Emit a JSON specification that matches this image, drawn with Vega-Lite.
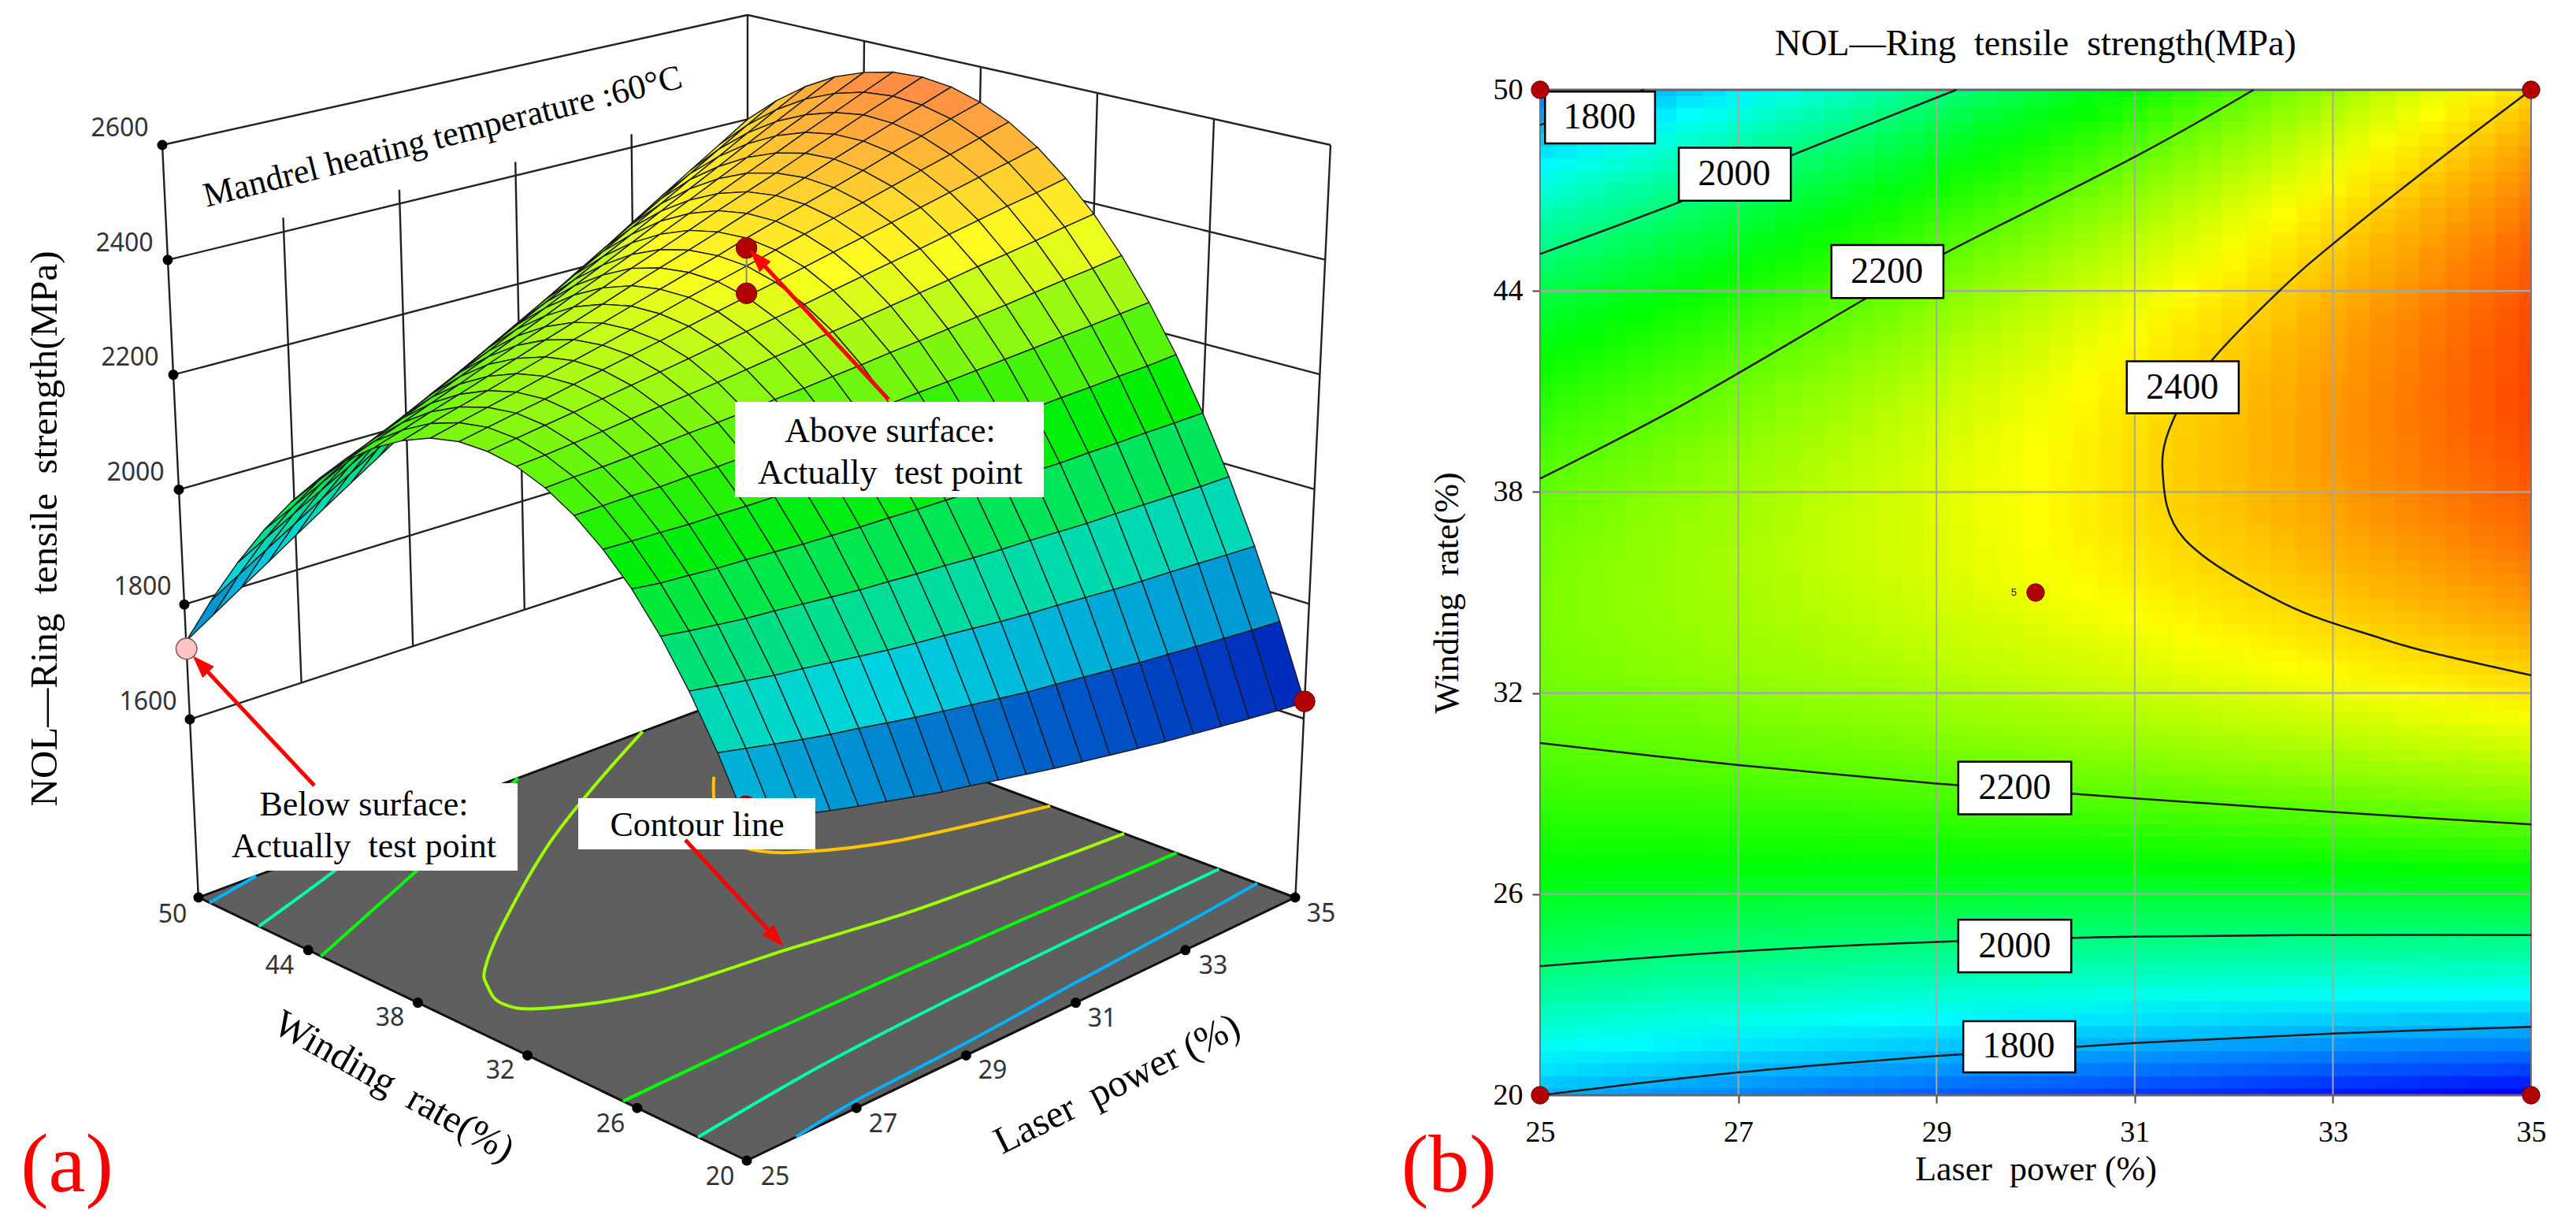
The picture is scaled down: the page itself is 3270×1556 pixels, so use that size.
{"$schema":"https://vega.github.io/schema/vega-lite/v6.json","background":"white","padding":{"left":0,"top":14,"right":0,"bottom":0},"autosize":{"type":"pad"},"bounds":"flush","spacing":0,"config":{"view":{"stroke":null}},"resolve":{"scale":{"fill":"independent"}},
"datasets":{"grid":[
{"l":35,"w":50,"z":2400},{"l":35,"w":49.25,"z":2425},{"l":35,"w":48.5,"z":2449},{"l":35,"w":47.75,"z":2470},{"l":35,"w":47,"z":2489},{"l":35,"w":46.25,"z":2506},{"l":35,"w":45.5,"z":2520},{"l":35,"w":44.75,"z":2532},{"l":35,"w":44,"z":2541},{"l":35,"w":43.25,"z":2549},{"l":35,"w":42.5,"z":2554},{"l":35,"w":41.75,"z":2556},{"l":35,"w":41,"z":2557},{"l":35,"w":40.25,"z":2555},{"l":35,"w":39.5,"z":2551},{"l":35,"w":38.75,"z":2544},{"l":35,"w":38,"z":2535},{"l":35,"w":37.25,"z":2524},{"l":35,"w":36.5,"z":2511},{"l":35,"w":35.75,"z":2495},{"l":35,"w":35,"z":2477},{"l":35,"w":34.25,"z":2456},{"l":35,"w":33.5,"z":2433},{"l":35,"w":32.75,"z":2408},{"l":35,"w":32,"z":2381},{"l":35,"w":31.25,"z":2351},{"l":35,"w":30.5,"z":2319},{"l":35,"w":29.75,"z":2285},{"l":35,"w":29,"z":2248},{"l":35,"w":28.25,"z":2209},{"l":35,"w":27.5,"z":2168},{"l":35,"w":26.75,"z":2124},{"l":35,"w":26,"z":2078},{"l":35,"w":25.25,"z":2030},{"l":35,"w":24.5,"z":1979},{"l":35,"w":23.75,"z":1927},{"l":35,"w":23,"z":1871},{"l":35,"w":22.25,"z":1814},{"l":35,"w":21.5,"z":1754},{"l":35,"w":20.75,"z":1692},{"l":35,"w":20,"z":1628},
{"l":34.5,"w":50,"z":2364},{"l":34.5,"w":49.25,"z":2391},{"l":34.5,"w":48.5,"z":2416},{"l":34.5,"w":47.75,"z":2438},{"l":34.5,"w":47,"z":2458},{"l":34.5,"w":46.25,"z":2476},{"l":34.5,"w":45.5,"z":2491},{"l":34.5,"w":44.75,"z":2503},{"l":34.5,"w":44,"z":2514},{"l":34.5,"w":43.25,"z":2523},{"l":34.5,"w":42.5,"z":2529},{"l":34.5,"w":41.75,"z":2532},{"l":34.5,"w":41,"z":2534},{"l":34.5,"w":40.25,"z":2533},{"l":34.5,"w":39.5,"z":2530},{"l":34.5,"w":38.75,"z":2524},{"l":34.5,"w":38,"z":2517},{"l":34.5,"w":37.25,"z":2507},{"l":34.5,"w":36.5,"z":2494},{"l":34.5,"w":35.75,"z":2479},{"l":34.5,"w":35,"z":2462},{"l":34.5,"w":34.25,"z":2443},{"l":34.5,"w":33.5,"z":2420},{"l":34.5,"w":32.75,"z":2397},{"l":34.5,"w":32,"z":2371},{"l":34.5,"w":31.25,"z":2342},{"l":34.5,"w":30.5,"z":2310},{"l":34.5,"w":29.75,"z":2277},{"l":34.5,"w":29,"z":2242},{"l":34.5,"w":28.25,"z":2204},{"l":34.5,"w":27.5,"z":2163},{"l":34.5,"w":26.75,"z":2121},{"l":34.5,"w":26,"z":2076},{"l":34.5,"w":25.25,"z":2029},{"l":34.5,"w":24.5,"z":1979},{"l":34.5,"w":23.75,"z":1928},{"l":34.5,"w":23,"z":1874},{"l":34.5,"w":22.25,"z":1818},{"l":34.5,"w":21.5,"z":1758},{"l":34.5,"w":20.75,"z":1697},{"l":34.5,"w":20,"z":1634},
{"l":34,"w":50,"z":2329},{"l":34,"w":49.25,"z":2357},{"l":34,"w":48.5,"z":2383},{"l":34,"w":47.75,"z":2405},{"l":34,"w":47,"z":2427},{"l":34,"w":46.25,"z":2446},{"l":34,"w":45.5,"z":2462},{"l":34,"w":44.75,"z":2476},{"l":34,"w":44,"z":2487},{"l":34,"w":43.25,"z":2497},{"l":34,"w":42.5,"z":2504},{"l":34,"w":41.75,"z":2509},{"l":34,"w":41,"z":2512},{"l":34,"w":40.25,"z":2511},{"l":34,"w":39.5,"z":2509},{"l":34,"w":38.75,"z":2505},{"l":34,"w":38,"z":2498},{"l":34,"w":37.25,"z":2490},{"l":34,"w":36.5,"z":2477},{"l":34,"w":35.75,"z":2464},{"l":34,"w":35,"z":2448},{"l":34,"w":34.25,"z":2430},{"l":34,"w":33.5,"z":2409},{"l":34,"w":32.75,"z":2386},{"l":34,"w":32,"z":2360},{"l":34,"w":31.25,"z":2333},{"l":34,"w":30.5,"z":2303},{"l":34,"w":29.75,"z":2271},{"l":34,"w":29,"z":2236},{"l":34,"w":28.25,"z":2199},{"l":34,"w":27.5,"z":2160},{"l":34,"w":26.75,"z":2119},{"l":34,"w":26,"z":2075},{"l":34,"w":25.25,"z":2028},{"l":34,"w":24.5,"z":1980},{"l":34,"w":23.75,"z":1930},{"l":34,"w":23,"z":1877},{"l":34,"w":22.25,"z":1821},{"l":34,"w":21.5,"z":1763},{"l":34,"w":20.75,"z":1703},{"l":34,"w":20,"z":1641},
{"l":33.5,"w":50,"z":2294},{"l":33.5,"w":49.25,"z":2323},{"l":33.5,"w":48.5,"z":2350},{"l":33.5,"w":47.75,"z":2374},{"l":33.5,"w":47,"z":2396},{"l":33.5,"w":46.25,"z":2416},{"l":33.5,"w":45.5,"z":2433},{"l":33.5,"w":44.75,"z":2448},{"l":33.5,"w":44,"z":2461},{"l":33.5,"w":43.25,"z":2472},{"l":33.5,"w":42.5,"z":2480},{"l":33.5,"w":41.75,"z":2485},{"l":33.5,"w":41,"z":2489},{"l":33.5,"w":40.25,"z":2490},{"l":33.5,"w":39.5,"z":2489},{"l":33.5,"w":38.75,"z":2486},{"l":33.5,"w":38,"z":2480},{"l":33.5,"w":37.25,"z":2472},{"l":33.5,"w":36.5,"z":2461},{"l":33.5,"w":35.75,"z":2449},{"l":33.5,"w":35,"z":2434},{"l":33.5,"w":34.25,"z":2417},{"l":33.5,"w":33.5,"z":2397},{"l":33.5,"w":32.75,"z":2376},{"l":33.5,"w":32,"z":2350},{"l":33.5,"w":31.25,"z":2324},{"l":33.5,"w":30.5,"z":2295},{"l":33.5,"w":29.75,"z":2264},{"l":33.5,"w":29,"z":2231},{"l":33.5,"w":28.25,"z":2195},{"l":33.5,"w":27.5,"z":2156},{"l":33.5,"w":26.75,"z":2116},{"l":33.5,"w":26,"z":2073},{"l":33.5,"w":25.25,"z":2028},{"l":33.5,"w":24.5,"z":1981},{"l":33.5,"w":23.75,"z":1932},{"l":33.5,"w":23,"z":1880},{"l":33.5,"w":22.25,"z":1824},{"l":33.5,"w":21.5,"z":1768},{"l":33.5,"w":20.75,"z":1709},{"l":33.5,"w":20,"z":1648},
{"l":33,"w":50,"z":2259},{"l":33,"w":49.25,"z":2289},{"l":33,"w":48.5,"z":2317},{"l":33,"w":47.75,"z":2342},{"l":33,"w":47,"z":2366},{"l":33,"w":46.25,"z":2387},{"l":33,"w":45.5,"z":2404},{"l":33,"w":44.75,"z":2420},{"l":33,"w":44,"z":2434},{"l":33,"w":43.25,"z":2446},{"l":33,"w":42.5,"z":2455},{"l":33,"w":41.75,"z":2462},{"l":33,"w":41,"z":2467},{"l":33,"w":40.25,"z":2469},{"l":33,"w":39.5,"z":2469},{"l":33,"w":38.75,"z":2467},{"l":33,"w":38,"z":2461},{"l":33,"w":37.25,"z":2455},{"l":33,"w":36.5,"z":2445},{"l":33,"w":35.75,"z":2434},{"l":33,"w":35,"z":2420},{"l":33,"w":34.25,"z":2404},{"l":33,"w":33.5,"z":2385},{"l":33,"w":32.75,"z":2365},{"l":33,"w":32,"z":2341},{"l":33,"w":31.25,"z":2315},{"l":33,"w":30.5,"z":2287},{"l":33,"w":29.75,"z":2257},{"l":33,"w":29,"z":2225},{"l":33,"w":28.25,"z":2190},{"l":33,"w":27.5,"z":2153},{"l":33,"w":26.75,"z":2114},{"l":33,"w":26,"z":2072},{"l":33,"w":25.25,"z":2028},{"l":33,"w":24.5,"z":1982},{"l":33,"w":23.75,"z":1933},{"l":33,"w":23,"z":1882},{"l":33,"w":22.25,"z":1828},{"l":33,"w":21.5,"z":1773},{"l":33,"w":20.75,"z":1715},{"l":33,"w":20,"z":1655},
{"l":32.5,"w":50,"z":2224},{"l":32.5,"w":49.25,"z":2255},{"l":32.5,"w":48.5,"z":2284},{"l":32.5,"w":47.75,"z":2310},{"l":32.5,"w":47,"z":2335},{"l":32.5,"w":46.25,"z":2357},{"l":32.5,"w":45.5,"z":2376},{"l":32.5,"w":44.75,"z":2393},{"l":32.5,"w":44,"z":2408},{"l":32.5,"w":43.25,"z":2421},{"l":32.5,"w":42.5,"z":2431},{"l":32.5,"w":41.75,"z":2439},{"l":32.5,"w":41,"z":2444},{"l":32.5,"w":40.25,"z":2447},{"l":32.5,"w":39.5,"z":2448},{"l":32.5,"w":38.75,"z":2447},{"l":32.5,"w":38,"z":2443},{"l":32.5,"w":37.25,"z":2438},{"l":32.5,"w":36.5,"z":2429},{"l":32.5,"w":35.75,"z":2419},{"l":32.5,"w":35,"z":2406},{"l":32.5,"w":34.25,"z":2391},{"l":32.5,"w":33.5,"z":2373},{"l":32.5,"w":32.75,"z":2354},{"l":32.5,"w":32,"z":2331},{"l":32.5,"w":31.25,"z":2307},{"l":32.5,"w":30.5,"z":2280},{"l":32.5,"w":29.75,"z":2251},{"l":32.5,"w":29,"z":2220},{"l":32.5,"w":28.25,"z":2185},{"l":32.5,"w":27.5,"z":2149},{"l":32.5,"w":26.75,"z":2111},{"l":32.5,"w":26,"z":2070},{"l":32.5,"w":25.25,"z":2027},{"l":32.5,"w":24.5,"z":1982},{"l":32.5,"w":23.75,"z":1935},{"l":32.5,"w":23,"z":1885},{"l":32.5,"w":22.25,"z":1832},{"l":32.5,"w":21.5,"z":1778},{"l":32.5,"w":20.75,"z":1721},{"l":32.5,"w":20,"z":1662},
{"l":32,"w":50,"z":2190},{"l":32,"w":49.25,"z":2222},{"l":32,"w":48.5,"z":2252},{"l":32,"w":47.75,"z":2279},{"l":32,"w":47,"z":2305},{"l":32,"w":46.25,"z":2328},{"l":32,"w":45.5,"z":2348},{"l":32,"w":44.75,"z":2366},{"l":32,"w":44,"z":2382},{"l":32,"w":43.25,"z":2396},{"l":32,"w":42.5,"z":2407},{"l":32,"w":41.75,"z":2416},{"l":32,"w":41,"z":2423},{"l":32,"w":40.25,"z":2427},{"l":32,"w":39.5,"z":2429},{"l":32,"w":38.75,"z":2429},{"l":32,"w":38,"z":2426},{"l":32,"w":37.25,"z":2422},{"l":32,"w":36.5,"z":2414},{"l":32,"w":35.75,"z":2405},{"l":32,"w":35,"z":2393},{"l":32,"w":34.25,"z":2379},{"l":32,"w":33.5,"z":2362},{"l":32,"w":32.75,"z":2344},{"l":32,"w":32,"z":2322},{"l":32,"w":31.25,"z":2299},{"l":32,"w":30.5,"z":2273},{"l":32,"w":29.75,"z":2245},{"l":32,"w":29,"z":2215},{"l":32,"w":28.25,"z":2182},{"l":32,"w":27.5,"z":2147},{"l":32,"w":26.75,"z":2110},{"l":32,"w":26,"z":2070},{"l":32,"w":25.25,"z":2028},{"l":32,"w":24.5,"z":1984},{"l":32,"w":23.75,"z":1938},{"l":32,"w":23,"z":1889},{"l":32,"w":22.25,"z":1837},{"l":32,"w":21.5,"z":1784},{"l":32,"w":20.75,"z":1728},{"l":32,"w":20,"z":1670},
{"l":31.5,"w":50,"z":2156},{"l":31.5,"w":49.25,"z":2189},{"l":31.5,"w":48.5,"z":2220},{"l":31.5,"w":47.75,"z":2248},{"l":31.5,"w":47,"z":2275},{"l":31.5,"w":46.25,"z":2299},{"l":31.5,"w":45.5,"z":2320},{"l":31.5,"w":44.75,"z":2339},{"l":31.5,"w":44,"z":2357},{"l":31.5,"w":43.25,"z":2372},{"l":31.5,"w":42.5,"z":2384},{"l":31.5,"w":41.75,"z":2394},{"l":31.5,"w":41,"z":2402},{"l":31.5,"w":40.25,"z":2407},{"l":31.5,"w":39.5,"z":2410},{"l":31.5,"w":38.75,"z":2411},{"l":31.5,"w":38,"z":2409},{"l":31.5,"w":37.25,"z":2406},{"l":31.5,"w":36.5,"z":2399},{"l":31.5,"w":35.75,"z":2391},{"l":31.5,"w":35,"z":2380},{"l":31.5,"w":34.25,"z":2367},{"l":31.5,"w":33.5,"z":2351},{"l":31.5,"w":32.75,"z":2334},{"l":31.5,"w":32,"z":2313},{"l":31.5,"w":31.25,"z":2291},{"l":31.5,"w":30.5,"z":2266},{"l":31.5,"w":29.75,"z":2239},{"l":31.5,"w":29,"z":2210},{"l":31.5,"w":28.25,"z":2178},{"l":31.5,"w":27.5,"z":2144},{"l":31.5,"w":26.75,"z":2108},{"l":31.5,"w":26,"z":2069},{"l":31.5,"w":25.25,"z":2029},{"l":31.5,"w":24.5,"z":1986},{"l":31.5,"w":23.75,"z":1941},{"l":31.5,"w":23,"z":1893},{"l":31.5,"w":22.25,"z":1842},{"l":31.5,"w":21.5,"z":1790},{"l":31.5,"w":20.75,"z":1735},{"l":31.5,"w":20,"z":1678},
{"l":31,"w":50,"z":2122},{"l":31,"w":49.25,"z":2156},{"l":31,"w":48.5,"z":2188},{"l":31,"w":47.75,"z":2218},{"l":31,"w":47,"z":2246},{"l":31,"w":46.25,"z":2271},{"l":31,"w":45.5,"z":2293},{"l":31,"w":44.75,"z":2313},{"l":31,"w":44,"z":2331},{"l":31,"w":43.25,"z":2347},{"l":31,"w":42.5,"z":2360},{"l":31,"w":41.75,"z":2371},{"l":31,"w":41,"z":2380},{"l":31,"w":40.25,"z":2386},{"l":31,"w":39.5,"z":2390},{"l":31,"w":38.75,"z":2393},{"l":31,"w":38,"z":2392},{"l":31,"w":37.25,"z":2390},{"l":31,"w":36.5,"z":2384},{"l":31,"w":35.75,"z":2377},{"l":31,"w":35,"z":2367},{"l":31,"w":34.25,"z":2355},{"l":31,"w":33.5,"z":2340},{"l":31,"w":32.75,"z":2324},{"l":31,"w":32,"z":2304},{"l":31,"w":31.25,"z":2283},{"l":31,"w":30.5,"z":2260},{"l":31,"w":29.75,"z":2234},{"l":31,"w":29,"z":2206},{"l":31,"w":28.25,"z":2175},{"l":31,"w":27.5,"z":2142},{"l":31,"w":26.75,"z":2107},{"l":31,"w":26,"z":2069},{"l":31,"w":25.25,"z":2029},{"l":31,"w":24.5,"z":1987},{"l":31,"w":23.75,"z":1943},{"l":31,"w":23,"z":1896},{"l":31,"w":22.25,"z":1846},{"l":31,"w":21.5,"z":1796},{"l":31,"w":20.75,"z":1742},{"l":31,"w":20,"z":1686},
{"l":30.5,"w":50,"z":2088},{"l":30.5,"w":49.25,"z":2123},{"l":30.5,"w":48.5,"z":2157},{"l":30.5,"w":47.75,"z":2187},{"l":30.5,"w":47,"z":2216},{"l":30.5,"w":46.25,"z":2242},{"l":30.5,"w":45.5,"z":2265},{"l":30.5,"w":44.75,"z":2286},{"l":30.5,"w":44,"z":2305},{"l":30.5,"w":43.25,"z":2323},{"l":30.5,"w":42.5,"z":2337},{"l":30.5,"w":41.75,"z":2349},{"l":30.5,"w":41,"z":2359},{"l":30.5,"w":40.25,"z":2366},{"l":30.5,"w":39.5,"z":2371},{"l":30.5,"w":38.75,"z":2374},{"l":30.5,"w":38,"z":2374},{"l":30.5,"w":37.25,"z":2374},{"l":30.5,"w":36.5,"z":2369},{"l":30.5,"w":35.75,"z":2363},{"l":30.5,"w":35,"z":2354},{"l":30.5,"w":34.25,"z":2343},{"l":30.5,"w":33.5,"z":2329},{"l":30.5,"w":32.75,"z":2314},{"l":30.5,"w":32,"z":2296},{"l":30.5,"w":31.25,"z":2276},{"l":30.5,"w":30.5,"z":2253},{"l":30.5,"w":29.75,"z":2228},{"l":30.5,"w":29,"z":2201},{"l":30.5,"w":28.25,"z":2171},{"l":30.5,"w":27.5,"z":2139},{"l":30.5,"w":26.75,"z":2105},{"l":30.5,"w":26,"z":2069},{"l":30.5,"w":25.25,"z":2030},{"l":30.5,"w":24.5,"z":1989},{"l":30.5,"w":23.75,"z":1946},{"l":30.5,"w":23,"z":1900},{"l":30.5,"w":22.25,"z":1851},{"l":30.5,"w":21.5,"z":1801},{"l":30.5,"w":20.75,"z":1749},{"l":30.5,"w":20,"z":1694},
{"l":30,"w":50,"z":2055},{"l":30,"w":49.25,"z":2092},{"l":30,"w":48.5,"z":2126},{"l":30,"w":47.75,"z":2157},{"l":30,"w":47,"z":2187},{"l":30,"w":46.25,"z":2214},{"l":30,"w":45.5,"z":2238},{"l":30,"w":44.75,"z":2261},{"l":30,"w":44,"z":2281},{"l":30,"w":43.25,"z":2299},{"l":30,"w":42.5,"z":2314},{"l":30,"w":41.75,"z":2327},{"l":30,"w":41,"z":2339},{"l":30,"w":40.25,"z":2347},{"l":30,"w":39.5,"z":2353},{"l":30,"w":38.75,"z":2357},{"l":30,"w":38,"z":2358},{"l":30,"w":37.25,"z":2358},{"l":30,"w":36.5,"z":2355},{"l":30,"w":35.75,"z":2350},{"l":30,"w":35,"z":2342},{"l":30,"w":34.25,"z":2332},{"l":30,"w":33.5,"z":2319},{"l":30,"w":32.75,"z":2306},{"l":30,"w":32,"z":2288},{"l":30,"w":31.25,"z":2269},{"l":30,"w":30.5,"z":2247},{"l":30,"w":29.75,"z":2223},{"l":30,"w":29,"z":2197},{"l":30,"w":28.25,"z":2169},{"l":30,"w":27.5,"z":2138},{"l":30,"w":26.75,"z":2105},{"l":30,"w":26,"z":2069},{"l":30,"w":25.25,"z":2031},{"l":30,"w":24.5,"z":1992},{"l":30,"w":23.75,"z":1950},{"l":30,"w":23,"z":1905},{"l":30,"w":22.25,"z":1857},{"l":30,"w":21.5,"z":1808},{"l":30,"w":20.75,"z":1756},{"l":30,"w":20,"z":1703},
{"l":29.5,"w":50,"z":2022},{"l":29.5,"w":49.25,"z":2060},{"l":29.5,"w":48.5,"z":2095},{"l":29.5,"w":47.75,"z":2127},{"l":29.5,"w":47,"z":2158},{"l":29.5,"w":46.25,"z":2187},{"l":29.5,"w":45.5,"z":2212},{"l":29.5,"w":44.75,"z":2235},{"l":29.5,"w":44,"z":2256},{"l":29.5,"w":43.25,"z":2275},{"l":29.5,"w":42.5,"z":2292},{"l":29.5,"w":41.75,"z":2306},{"l":29.5,"w":41,"z":2318},{"l":29.5,"w":40.25,"z":2327},{"l":29.5,"w":39.5,"z":2335},{"l":29.5,"w":38.75,"z":2340},{"l":29.5,"w":38,"z":2342},{"l":29.5,"w":37.25,"z":2343},{"l":29.5,"w":36.5,"z":2341},{"l":29.5,"w":35.75,"z":2337},{"l":29.5,"w":35,"z":2330},{"l":29.5,"w":34.25,"z":2321},{"l":29.5,"w":33.5,"z":2309},{"l":29.5,"w":32.75,"z":2297},{"l":29.5,"w":32,"z":2280},{"l":29.5,"w":31.25,"z":2262},{"l":29.5,"w":30.5,"z":2241},{"l":29.5,"w":29.75,"z":2219},{"l":29.5,"w":29,"z":2194},{"l":29.5,"w":28.25,"z":2166},{"l":29.5,"w":27.5,"z":2136},{"l":29.5,"w":26.75,"z":2105},{"l":29.5,"w":26,"z":2070},{"l":29.5,"w":25.25,"z":2033},{"l":29.5,"w":24.5,"z":1994},{"l":29.5,"w":23.75,"z":1953},{"l":29.5,"w":23,"z":1910},{"l":29.5,"w":22.25,"z":1863},{"l":29.5,"w":21.5,"z":1815},{"l":29.5,"w":20.75,"z":1764},{"l":29.5,"w":20,"z":1712},
{"l":29,"w":50,"z":1989},{"l":29,"w":49.25,"z":2028},{"l":29,"w":48.5,"z":2064},{"l":29,"w":47.75,"z":2097},{"l":29,"w":47,"z":2130},{"l":29,"w":46.25,"z":2159},{"l":29,"w":45.5,"z":2185},{"l":29,"w":44.75,"z":2209},{"l":29,"w":44,"z":2232},{"l":29,"w":43.25,"z":2252},{"l":29,"w":42.5,"z":2269},{"l":29,"w":41.75,"z":2284},{"l":29,"w":41,"z":2298},{"l":29,"w":40.25,"z":2308},{"l":29,"w":39.5,"z":2316},{"l":29,"w":38.75,"z":2323},{"l":29,"w":38,"z":2326},{"l":29,"w":37.25,"z":2328},{"l":29,"w":36.5,"z":2326},{"l":29,"w":35.75,"z":2324},{"l":29,"w":35,"z":2318},{"l":29,"w":34.25,"z":2310},{"l":29,"w":33.5,"z":2300},{"l":29,"w":32.75,"z":2288},{"l":29,"w":32,"z":2272},{"l":29,"w":31.25,"z":2255},{"l":29,"w":30.5,"z":2236},{"l":29,"w":29.75,"z":2214},{"l":29,"w":29,"z":2190},{"l":29,"w":28.25,"z":2164},{"l":29,"w":27.5,"z":2135},{"l":29,"w":26.75,"z":2104},{"l":29,"w":26,"z":2070},{"l":29,"w":25.25,"z":2035},{"l":29,"w":24.5,"z":1997},{"l":29,"w":23.75,"z":1957},{"l":29,"w":23,"z":1914},{"l":29,"w":22.25,"z":1869},{"l":29,"w":21.5,"z":1822},{"l":29,"w":20.75,"z":1772},{"l":29,"w":20,"z":1721},
{"l":28.5,"w":50,"z":1957},{"l":28.5,"w":49.25,"z":1996},{"l":28.5,"w":48.5,"z":2033},{"l":28.5,"w":47.75,"z":2067},{"l":28.5,"w":47,"z":2101},{"l":28.5,"w":46.25,"z":2131},{"l":28.5,"w":45.5,"z":2158},{"l":28.5,"w":44.75,"z":2184},{"l":28.5,"w":44,"z":2207},{"l":28.5,"w":43.25,"z":2228},{"l":28.5,"w":42.5,"z":2247},{"l":28.5,"w":41.75,"z":2263},{"l":28.5,"w":41,"z":2277},{"l":28.5,"w":40.25,"z":2289},{"l":28.5,"w":39.5,"z":2298},{"l":28.5,"w":38.75,"z":2305},{"l":28.5,"w":38,"z":2310},{"l":28.5,"w":37.25,"z":2313},{"l":28.5,"w":36.5,"z":2312},{"l":28.5,"w":35.75,"z":2311},{"l":28.5,"w":35,"z":2306},{"l":28.5,"w":34.25,"z":2299},{"l":28.5,"w":33.5,"z":2290},{"l":28.5,"w":32.75,"z":2279},{"l":28.5,"w":32,"z":2264},{"l":28.5,"w":31.25,"z":2249},{"l":28.5,"w":30.5,"z":2230},{"l":28.5,"w":29.75,"z":2209},{"l":28.5,"w":29,"z":2187},{"l":28.5,"w":28.25,"z":2161},{"l":28.5,"w":27.5,"z":2133},{"l":28.5,"w":26.75,"z":2104},{"l":28.5,"w":26,"z":2071},{"l":28.5,"w":25.25,"z":2036},{"l":28.5,"w":24.5,"z":1999},{"l":28.5,"w":23.75,"z":1961},{"l":28.5,"w":23,"z":1919},{"l":28.5,"w":22.25,"z":1875},{"l":28.5,"w":21.5,"z":1829},{"l":28.5,"w":20.75,"z":1780},{"l":28.5,"w":20,"z":1729},
{"l":28,"w":50,"z":1925},{"l":28,"w":49.25,"z":1965},{"l":28,"w":48.5,"z":2003},{"l":28,"w":47.75,"z":2039},{"l":28,"w":47,"z":2073},{"l":28,"w":46.25,"z":2104},{"l":28,"w":45.5,"z":2133},{"l":28,"w":44.75,"z":2159},{"l":28,"w":44,"z":2184},{"l":28,"w":43.25,"z":2206},{"l":28,"w":42.5,"z":2225},{"l":28,"w":41.75,"z":2243},{"l":28,"w":41,"z":2258},{"l":28,"w":40.25,"z":2270},{"l":28,"w":39.5,"z":2281},{"l":28,"w":38.75,"z":2289},{"l":28,"w":38,"z":2295},{"l":28,"w":37.25,"z":2299},{"l":28,"w":36.5,"z":2299},{"l":28,"w":35.75,"z":2299},{"l":28,"w":35,"z":2295},{"l":28,"w":34.25,"z":2289},{"l":28,"w":33.5,"z":2281},{"l":28,"w":32.75,"z":2271},{"l":28,"w":32,"z":2257},{"l":28,"w":31.25,"z":2243},{"l":28,"w":30.5,"z":2225},{"l":28,"w":29.75,"z":2206},{"l":28,"w":29,"z":2184},{"l":28,"w":28.25,"z":2159},{"l":28,"w":27.5,"z":2133},{"l":28,"w":26.75,"z":2104},{"l":28,"w":26,"z":2072},{"l":28,"w":25.25,"z":2039},{"l":28,"w":24.5,"z":2003},{"l":28,"w":23.75,"z":1966},{"l":28,"w":23,"z":1925},{"l":28,"w":22.25,"z":1881},{"l":28,"w":21.5,"z":1837},{"l":28,"w":20.75,"z":1789},{"l":28,"w":20,"z":1739},
{"l":27.5,"w":50,"z":1893},{"l":27.5,"w":49.25,"z":1934},{"l":27.5,"w":48.5,"z":1973},{"l":27.5,"w":47.75,"z":2010},{"l":27.5,"w":47,"z":2045},{"l":27.5,"w":46.25,"z":2078},{"l":27.5,"w":45.5,"z":2107},{"l":27.5,"w":44.75,"z":2134},{"l":27.5,"w":44,"z":2160},{"l":27.5,"w":43.25,"z":2183},{"l":27.5,"w":42.5,"z":2204},{"l":27.5,"w":41.75,"z":2222},{"l":27.5,"w":41,"z":2239},{"l":27.5,"w":40.25,"z":2252},{"l":27.5,"w":39.5,"z":2263},{"l":27.5,"w":38.75,"z":2273},{"l":27.5,"w":38,"z":2279},{"l":27.5,"w":37.25,"z":2285},{"l":27.5,"w":36.5,"z":2286},{"l":27.5,"w":35.75,"z":2287},{"l":27.5,"w":35,"z":2284},{"l":27.5,"w":34.25,"z":2279},{"l":27.5,"w":33.5,"z":2272},{"l":27.5,"w":32.75,"z":2263},{"l":27.5,"w":32,"z":2251},{"l":27.5,"w":31.25,"z":2237},{"l":27.5,"w":30.5,"z":2221},{"l":27.5,"w":29.75,"z":2202},{"l":27.5,"w":29,"z":2181},{"l":27.5,"w":28.25,"z":2158},{"l":27.5,"w":27.5,"z":2132},{"l":27.5,"w":26.75,"z":2105},{"l":27.5,"w":26,"z":2074},{"l":27.5,"w":25.25,"z":2042},{"l":27.5,"w":24.5,"z":2007},{"l":27.5,"w":23.75,"z":1970},{"l":27.5,"w":23,"z":1931},{"l":27.5,"w":22.25,"z":1888},{"l":27.5,"w":21.5,"z":1845},{"l":27.5,"w":20.75,"z":1798},{"l":27.5,"w":20,"z":1749},
{"l":27,"w":50,"z":1861},{"l":27,"w":49.25,"z":1903},{"l":27,"w":48.5,"z":1944},{"l":27,"w":47.75,"z":1981},{"l":27,"w":47,"z":2017},{"l":27,"w":46.25,"z":2051},{"l":27,"w":45.5,"z":2081},{"l":27,"w":44.75,"z":2110},{"l":27,"w":44,"z":2136},{"l":27,"w":43.25,"z":2161},{"l":27,"w":42.5,"z":2182},{"l":27,"w":41.75,"z":2202},{"l":27,"w":41,"z":2219},{"l":27,"w":40.25,"z":2234},{"l":27,"w":39.5,"z":2246},{"l":27,"w":38.75,"z":2257},{"l":27,"w":38,"z":2264},{"l":27,"w":37.25,"z":2271},{"l":27,"w":36.5,"z":2273},{"l":27,"w":35.75,"z":2275},{"l":27,"w":35,"z":2273},{"l":27,"w":34.25,"z":2269},{"l":27,"w":33.5,"z":2263},{"l":27,"w":32.75,"z":2255},{"l":27,"w":32,"z":2244},{"l":27,"w":31.25,"z":2231},{"l":27,"w":30.5,"z":2216},{"l":27,"w":29.75,"z":2198},{"l":27,"w":29,"z":2179},{"l":27,"w":28.25,"z":2156},{"l":27,"w":27.5,"z":2132},{"l":27,"w":26.75,"z":2105},{"l":27,"w":26,"z":2076},{"l":27,"w":25.25,"z":2044},{"l":27,"w":24.5,"z":2011},{"l":27,"w":23.75,"z":1975},{"l":27,"w":23,"z":1937},{"l":27,"w":22.25,"z":1895},{"l":27,"w":21.5,"z":1852},{"l":27,"w":20.75,"z":1807},{"l":27,"w":20,"z":1759},
{"l":26.5,"w":50,"z":1829},{"l":26.5,"w":49.25,"z":1872},{"l":26.5,"w":48.5,"z":1914},{"l":26.5,"w":47.75,"z":1952},{"l":26.5,"w":47,"z":1990},{"l":26.5,"w":46.25,"z":2024},{"l":26.5,"w":45.5,"z":2056},{"l":26.5,"w":44.75,"z":2085},{"l":26.5,"w":44,"z":2113},{"l":26.5,"w":43.25,"z":2138},{"l":26.5,"w":42.5,"z":2161},{"l":26.5,"w":41.75,"z":2181},{"l":26.5,"w":41,"z":2200},{"l":26.5,"w":40.25,"z":2215},{"l":26.5,"w":39.5,"z":2229},{"l":26.5,"w":38.75,"z":2240},{"l":26.5,"w":38,"z":2249},{"l":26.5,"w":37.25,"z":2256},{"l":26.5,"w":36.5,"z":2260},{"l":26.5,"w":35.75,"z":2262},{"l":26.5,"w":35,"z":2262},{"l":26.5,"w":34.25,"z":2260},{"l":26.5,"w":33.5,"z":2254},{"l":26.5,"w":32.75,"z":2248},{"l":26.5,"w":32,"z":2237},{"l":26.5,"w":31.25,"z":2226},{"l":26.5,"w":30.5,"z":2211},{"l":26.5,"w":29.75,"z":2195},{"l":26.5,"w":29,"z":2176},{"l":26.5,"w":28.25,"z":2155},{"l":26.5,"w":27.5,"z":2131},{"l":26.5,"w":26.75,"z":2106},{"l":26.5,"w":26,"z":2077},{"l":26.5,"w":25.25,"z":2047},{"l":26.5,"w":24.5,"z":2014},{"l":26.5,"w":23.75,"z":1978},{"l":26.5,"w":23,"z":1942},{"l":26.5,"w":22.25,"z":1902},{"l":26.5,"w":21.5,"z":1860},{"l":26.5,"w":20.75,"z":1816},{"l":26.5,"w":20,"z":1769},
{"l":26,"w":50,"z":1798},{"l":26,"w":49.25,"z":1842},{"l":26,"w":48.5,"z":1885},{"l":26,"w":47.75,"z":1924},{"l":26,"w":47,"z":1963},{"l":26,"w":46.25,"z":1998},{"l":26,"w":45.5,"z":2031},{"l":26,"w":44.75,"z":2062},{"l":26,"w":44,"z":2090},{"l":26,"w":43.25,"z":2117},{"l":26,"w":42.5,"z":2140},{"l":26,"w":41.75,"z":2162},{"l":26,"w":41,"z":2181},{"l":26,"w":40.25,"z":2198},{"l":26,"w":39.5,"z":2213},{"l":26,"w":38.75,"z":2225},{"l":26,"w":38,"z":2235},{"l":26,"w":37.25,"z":2243},{"l":26,"w":36.5,"z":2248},{"l":26,"w":35.75,"z":2251},{"l":26,"w":35,"z":2252},{"l":26,"w":34.25,"z":2251},{"l":26,"w":33.5,"z":2246},{"l":26,"w":32.75,"z":2241},{"l":26,"w":32,"z":2231},{"l":26,"w":31.25,"z":2221},{"l":26,"w":30.5,"z":2207},{"l":26,"w":29.75,"z":2192},{"l":26,"w":29,"z":2175},{"l":26,"w":28.25,"z":2154},{"l":26,"w":27.5,"z":2132},{"l":26,"w":26.75,"z":2107},{"l":26,"w":26,"z":2080},{"l":26,"w":25.25,"z":2050},{"l":26,"w":24.5,"z":2019},{"l":26,"w":23.75,"z":1985},{"l":26,"w":23,"z":1949},{"l":26,"w":22.25,"z":1910},{"l":26,"w":21.5,"z":1869},{"l":26,"w":20.75,"z":1826},{"l":26,"w":20,"z":1780},
{"l":25.5,"w":50,"z":1767},{"l":25.5,"w":49.25,"z":1812},{"l":25.5,"w":48.5,"z":1856},{"l":25.5,"w":47.75,"z":1897},{"l":25.5,"w":47,"z":1936},{"l":25.5,"w":46.25,"z":1973},{"l":25.5,"w":45.5,"z":2006},{"l":25.5,"w":44.75,"z":2038},{"l":25.5,"w":44,"z":2068},{"l":25.5,"w":43.25,"z":2095},{"l":25.5,"w":42.5,"z":2120},{"l":25.5,"w":41.75,"z":2142},{"l":25.5,"w":41,"z":2163},{"l":25.5,"w":40.25,"z":2181},{"l":25.5,"w":39.5,"z":2196},{"l":25.5,"w":38.75,"z":2210},{"l":25.5,"w":38,"z":2221},{"l":25.5,"w":37.25,"z":2230},{"l":25.5,"w":36.5,"z":2236},{"l":25.5,"w":35.75,"z":2240},{"l":25.5,"w":35,"z":2242},{"l":25.5,"w":34.25,"z":2242},{"l":25.5,"w":33.5,"z":2238},{"l":25.5,"w":32.75,"z":2234},{"l":25.5,"w":32,"z":2225},{"l":25.5,"w":31.25,"z":2216},{"l":25.5,"w":30.5,"z":2204},{"l":25.5,"w":29.75,"z":2190},{"l":25.5,"w":29,"z":2173},{"l":25.5,"w":28.25,"z":2154},{"l":25.5,"w":27.5,"z":2132},{"l":25.5,"w":26.75,"z":2109},{"l":25.5,"w":26,"z":2082},{"l":25.5,"w":25.25,"z":2054},{"l":25.5,"w":24.5,"z":2024},{"l":25.5,"w":23.75,"z":1991},{"l":25.5,"w":23,"z":1956},{"l":25.5,"w":22.25,"z":1917},{"l":25.5,"w":21.5,"z":1878},{"l":25.5,"w":20.75,"z":1836},{"l":25.5,"w":20,"z":1791},
{"l":25,"w":50,"z":1736},{"l":25,"w":49.25,"z":1782},{"l":25,"w":48.5,"z":1827},{"l":25,"w":47.75,"z":1869},{"l":25,"w":47,"z":1909},{"l":25,"w":46.25,"z":1947},{"l":25,"w":45.5,"z":1982},{"l":25,"w":44.75,"z":2014},{"l":25,"w":44,"z":2045},{"l":25,"w":43.25,"z":2074},{"l":25,"w":42.5,"z":2099},{"l":25,"w":41.75,"z":2123},{"l":25,"w":41,"z":2145},{"l":25,"w":40.25,"z":2165},{"l":25,"w":39.5,"z":2180},{"l":25,"w":38.75,"z":2195},{"l":25,"w":38,"z":2206},{"l":25,"w":37.25,"z":2217},{"l":25,"w":36.5,"z":2224},{"l":25,"w":35.75,"z":2229},{"l":25,"w":35,"z":2232},{"l":25,"w":34.25,"z":2233},{"l":25,"w":33.5,"z":2230},{"l":25,"w":32.75,"z":2227},{"l":25,"w":32,"z":2220},{"l":25,"w":31.25,"z":2211},{"l":25,"w":30.5,"z":2200},{"l":25,"w":29.75,"z":2187},{"l":25,"w":29,"z":2171},{"l":25,"w":28.25,"z":2153},{"l":25,"w":27.5,"z":2133},{"l":25,"w":26.75,"z":2112},{"l":25,"w":26,"z":2087},{"l":25,"w":25.25,"z":2059},{"l":25,"w":24.5,"z":2030},{"l":25,"w":23.75,"z":1999},{"l":25,"w":23,"z":1963},{"l":25,"w":22.25,"z":1925},{"l":25,"w":21.5,"z":1887},{"l":25,"w":20.75,"z":1846},{"l":25,"w":20,"z":1802}
]},
"hconcat":[
{"width":1955,"height":1443,
"encoding":{"x":{"field":"px","type":"quantitative","scale":{"domain":[0,1955],"nice":false,"zero":false},"axis":null},"y":{"field":"py","type":"quantitative","scale":{"domain":[1556,113],"nice":false,"zero":false},"axis":null}},
"layer":[
{"data":{"values":[
{"id":1,"l":25,"w":50,"z":1600},{"id":1,"l":35,"w":50,"z":1600},{"id":2,"l":25,"w":50,"z":1800},{"id":2,"l":35,"w":50,"z":1800},{"id":3,"l":25,"w":50,"z":2000},{"id":3,"l":35,"w":50,"z":2000},{"id":4,"l":25,"w":50,"z":2200},{"id":4,"l":35,"w":50,"z":2200},{"id":5,"l":25,"w":50,"z":2400},{"id":5,"l":35,"w":50,"z":2400},{"id":6,"l":25,"w":50,"z":2600},{"id":6,"l":35,"w":50,"z":2600},
{"id":7,"l":35,"w":50,"z":1600},{"id":7,"l":35,"w":20,"z":1600},{"id":8,"l":35,"w":50,"z":1800},{"id":8,"l":35,"w":20,"z":1800},{"id":9,"l":35,"w":50,"z":2000},{"id":9,"l":35,"w":20,"z":2000},{"id":10,"l":35,"w":50,"z":2200},{"id":10,"l":35,"w":20,"z":2200},{"id":11,"l":35,"w":50,"z":2400},{"id":11,"l":35,"w":20,"z":2400},{"id":12,"l":35,"w":50,"z":2600},{"id":12,"l":35,"w":20,"z":2600},
{"id":13,"l":27,"w":50,"z":1600},{"id":13,"l":27,"w":50,"z":2425},{"id":14,"l":29,"w":50,"z":1600},{"id":14,"l":29,"w":50,"z":2425},{"id":15,"l":31,"w":50,"z":1600},{"id":15,"l":31,"w":50,"z":2425},{"id":16,"l":33,"w":50,"z":1600},{"id":16,"l":33,"w":50,"z":2425},
{"id":17,"l":35,"w":44,"z":1600},{"id":17,"l":35,"w":44,"z":2600},{"id":18,"l":35,"w":38,"z":1600},{"id":18,"l":35,"w":38,"z":2600},{"id":19,"l":35,"w":32,"z":1600},{"id":19,"l":35,"w":32,"z":2600},{"id":20,"l":35,"w":26,"z":1600},{"id":20,"l":35,"w":26,"z":2600},
{"id":21,"l":25,"w":50,"z":1290},{"id":21,"l":25,"w":50,"z":2600},{"id":22,"l":35,"w":20,"z":1290},{"id":22,"l":35,"w":20,"z":2600},{"id":23,"l":35,"w":50,"z":1600},{"id":23,"l":35,"w":50,"z":2600}
]},
"transform":[{"calculate":"(datum.l-25)/10","as":"u"},{"calculate":"(datum.w-20)/30","as":"v"},{"calculate":"(datum.z-1600)/1000","as":"t"},{"calculate":"947+708*datum.u-706*datum.v+datum.t*(-1+35*datum.u-34*datum.v)","as":"px"},{"calculate":"1217-306*datum.u-305*datum.v+74*datum.u*datum.v+datum.t*(-869+141*datum.u+140*datum.v-74*datum.u*datum.v)","as":"py"}],
"mark":{"type":"line","stroke":"#222222","strokeWidth":2.4},"encoding":{"detail":{"field":"id","type":"nominal"}}},
{"data":{"values":[{"k":0,"l":25,"w":20},{"k":1,"l":35,"w":20},{"k":2,"l":35,"w":50},{"k":3,"l":25,"w":50},{"k":4,"l":25,"w":20}]},
"transform":[{"calculate":"(datum.l-25)/10","as":"u"},{"calculate":"(datum.w-20)/30","as":"v"},{"calculate":"948+696*datum.u-696*datum.v","as":"px"},{"calculate":"1472-334*datum.u-334*datum.v+74*datum.u*datum.v","as":"py"}],
"mark":{"type":"line","fill":"#5f5f5f","stroke":"#111111","strokeWidth":3},"encoding":{"order":{"field":"k","type":"quantitative"}}},
{"data":{"values":[
{"id":"a","lev":1800,"k":0,"l":25.9,"w":20},{"id":"a","lev":1800,"k":1,"l":27.15,"w":20.45},{"id":"a","lev":1800,"k":2,"l":29.25,"w":20.74},{"id":"a","lev":1800,"k":3,"l":31.39,"w":21.23},{"id":"a","lev":1800,"k":4,"l":33.55,"w":21.67},{"id":"a","lev":1800,"k":5,"l":35,"w":22.07},
{"id":"b","lev":1800,"k":0,"l":25,"w":49.4},{"id":"b","lev":1800,"k":1,"l":26.05,"w":50},
{"id":"c","lev":1955,"k":0,"l":25,"w":22.67},{"id":"c","lev":1955,"k":1,"l":27.5,"w":23.47},{"id":"c","lev":1955,"k":2,"l":30,"w":23.86},{"id":"c","lev":1955,"k":3,"l":32.5,"w":24.07},{"id":"c","lev":1955,"k":4,"l":35,"w":24.16},
{"id":"d","lev":1955,"k":0,"l":25,"w":46.7},{"id":"d","lev":1955,"k":1,"l":26.94,"w":48.4},{"id":"d","lev":1955,"k":2,"l":28.5,"w":50},
{"id":"e","lev":2110,"k":0,"l":25,"w":26.77},{"id":"e","lev":2110,"k":1,"l":27.5,"w":26.9},{"id":"e","lev":2110,"k":2,"l":30,"w":26.86},{"id":"e","lev":2110,"k":3,"l":32.5,"w":26.72},{"id":"e","lev":2110,"k":4,"l":35,"w":26.51},
{"id":"f","lev":2110,"k":0,"l":25,"w":43.3},{"id":"f","lev":2110,"k":1,"l":27.8,"w":46.4},{"id":"f","lev":2110,"k":2,"l":30.83,"w":50},
{"id":"g","lev":2265,"k":0,"l":33.1,"w":50},{"id":"g","lev":2265,"k":1,"l":31.2,"w":47.2},{"id":"g","lev":2265,"k":2,"l":29.5,"w":44.5},{"id":"g","lev":2265,"k":3,"l":27.4,"w":40.6},{"id":"g","lev":2265,"k":4,"l":26.36,"w":38.4},{"id":"g","lev":2265,"k":5,"l":26.03,"w":37.3},{"id":"g","lev":2265,"k":6,"l":25.8,"w":35.8},{"id":"g","lev":2265,"k":7,"l":26.1,"w":34.4},{"id":"g","lev":2265,"k":8,"l":27.47,"w":32.5},{"id":"g","lev":2265,"k":9,"l":29.6,"w":31.5},{"id":"g","lev":2265,"k":10,"l":31.25,"w":30.56},{"id":"g","lev":2265,"k":11,"l":32.5,"w":30.1},{"id":"g","lev":2265,"k":12,"l":33.75,"w":29.7},{"id":"g","lev":2265,"k":13,"l":35,"w":29.35},
{"id":"h","lev":2420,"k":0,"l":32.7,"w":44.9},{"id":"h","lev":2420,"k":1,"l":32.2,"w":43.4},{"id":"h","lev":2420,"k":2,"l":31.5,"w":41},{"id":"h","lev":2420,"k":3,"l":31.4,"w":39},{"id":"h","lev":2420,"k":4,"l":31.8,"w":37.4},{"id":"h","lev":2420,"k":5,"l":32.96,"w":35.4},{"id":"h","lev":2420,"k":6,"l":35,"w":33.4}
]},
"transform":[{"calculate":"(datum.l-25)/10","as":"u"},{"calculate":"(datum.w-20)/30","as":"v"},{"calculate":"948+696*datum.u-696*datum.v","as":"px"},{"calculate":"1472-334*datum.u-334*datum.v+74*datum.u*datum.v","as":"py"}],
"mark":{"type":"line","strokeWidth":4,"interpolate":"cardinal"},"encoding":{"detail":{"field":"id","type":"nominal"},"order":{"field":"k","type":"quantitative"},"stroke":{"field":"lev","type":"quantitative","legend":null,"scale":{"domain":[1630,1872,2115,2357,2600],"range":["#0000ff","#00ffff","#00ff00","#ffff00","#ff2000"],"interpolate":"rgb"}}}},
{"data":{"name":"grid"},
"transform":[{"filter":"((datum.w-20)*2)%3==0"},{"calculate":"(datum.l-25)/10","as":"u"},{"calculate":"(datum.w-20)/30","as":"v"},{"calculate":"(datum.z-1600)/1000","as":"t"},{"calculate":"947+708*datum.u-706*datum.v+datum.t*(-1+35*datum.u-34*datum.v)","as":"px"},{"calculate":"1217-306*datum.u-305*datum.v+74*datum.u*datum.v+datum.t*(-869+141*datum.u+140*datum.v-74*datum.u*datum.v)","as":"py"},{"calculate":"round(datum.u*20)","as":"ci"},{"calculate":"round(datum.v*20)","as":"cj"},{"calculate":"[datum.ci*100+datum.cj,(datum.ci-1)*100+datum.cj,(datum.ci-1)*100+datum.cj-1,datum.ci*100+datum.cj-1,datum.ci*100+datum.cj]","as":"qs"},{"calculate":"[0,1,2,3,4]","as":"ks"},{"flatten":["qs","ks"]},{"filter":"datum.qs>=0&&datum.qs<2000&&datum.qs%100<20"},{"joinaggregate":[{"op":"mean","field":"z","as":"zq"}],"groupby":["qs"]}],
"mark":{"type":"line","stroke":"#1a1a1a","strokeWidth":1.4},"encoding":{"detail":{"field":"qs","type":"nominal"},"order":{"field":"ks","type":"quantitative"},"fill":{"field":"zq","type":"quantitative","legend":null,"scale":{"domain":[1630,1872,2115,2357,2600],"range":["#0000b4","#00d4e0","#00f000","#ffff20","#ff6a50"],"interpolate":"rgb"}}}},
{"data":{"values":[{"id":1,"l":30,"w":35,"z":2348},{"id":1,"l":30,"w":35,"z":2425}]},
"transform":[{"calculate":"(datum.l-25)/10","as":"u"},{"calculate":"(datum.w-20)/30","as":"v"},{"calculate":"(datum.z-1600)/1000","as":"t"},{"calculate":"947+708*datum.u-706*datum.v+datum.t*(-1+35*datum.u-34*datum.v)","as":"px"},{"calculate":"1217-306*datum.u-305*datum.v+74*datum.u*datum.v+datum.t*(-869+141*datum.u+140*datum.v-74*datum.u*datum.v)","as":"py"}],
"mark":{"type":"line","stroke":"#888888","strokeWidth":2}},
{"data":{"values":[{"l":35,"w":20,"z":1630},{"l":30,"w":35,"z":2425},{"l":30,"w":35,"z":2348},{"l":25,"w":20,"z":1824}]},
"transform":[{"calculate":"(datum.l-25)/10","as":"u"},{"calculate":"(datum.w-20)/30","as":"v"},{"calculate":"(datum.z-1600)/1000","as":"t"},{"calculate":"947+708*datum.u-706*datum.v+datum.t*(-1+35*datum.u-34*datum.v)","as":"px"},{"calculate":"1217-306*datum.u-305*datum.v+74*datum.u*datum.v+datum.t*(-869+141*datum.u+140*datum.v-74*datum.u*datum.v)","as":"py"}],
"mark":{"type":"circle","size":700,"fill":"#b00000","stroke":"#6e0000","strokeWidth":1,"opacity":1}},
{"data":{"values":[{"l":25,"w":50,"z":1723}]},
"transform":[{"calculate":"(datum.l-25)/10","as":"u"},{"calculate":"(datum.w-20)/30","as":"v"},{"calculate":"(datum.z-1600)/1000","as":"t"},{"calculate":"947+708*datum.u-706*datum.v+datum.t*(-1+35*datum.u-34*datum.v)","as":"px"},{"calculate":"1217-306*datum.u-305*datum.v+74*datum.u*datum.v+datum.t*(-869+141*datum.u+140*datum.v-74*datum.u*datum.v)","as":"py"}],
"mark":{"type":"circle","size":700,"fill":"#ffc4c4","stroke":"#8a5050","strokeWidth":1.5,"opacity":1}},
{"data":{"values":[{"l":25,"w":50,"z":1600},{"l":25,"w":50,"z":1800},{"l":25,"w":50,"z":2000},{"l":25,"w":50,"z":2200},{"l":25,"w":50,"z":2400},{"l":25,"w":50,"z":2600}]},
"transform":[{"calculate":"(datum.l-25)/10","as":"u"},{"calculate":"(datum.w-20)/30","as":"v"},{"calculate":"(datum.z-1600)/1000","as":"t"},{"calculate":"947+708*datum.u-706*datum.v+datum.t*(-1+35*datum.u-34*datum.v)","as":"px"},{"calculate":"1217-306*datum.u-305*datum.v+74*datum.u*datum.v+datum.t*(-869+141*datum.u+140*datum.v-74*datum.u*datum.v)","as":"py"}],
"mark":{"type":"circle","size":170,"fill":"#000000","opacity":1}},
{"data":{"values":[{"l":25,"w":50},{"l":25,"w":44},{"l":25,"w":38},{"l":25,"w":32},{"l":25,"w":26},{"l":25,"w":20},{"l":27,"w":20},{"l":29,"w":20},{"l":31,"w":20},{"l":33,"w":20},{"l":35,"w":20}]},
"transform":[{"calculate":"(datum.l-25)/10","as":"u"},{"calculate":"(datum.w-20)/30","as":"v"},{"calculate":"948+696*datum.u-696*datum.v","as":"px"},{"calculate":"1472-334*datum.u-334*datum.v+74*datum.u*datum.v","as":"py"}],
"mark":{"type":"circle","size":170,"fill":"#000000","opacity":1}},
{"data":{"values":[{"px":274,"px2":657,"py":993,"py2":1104},{"px":734,"px2":1035,"py":1012,"py2":1077},{"px":933,"px2":1325,"py":509,"py2":630}]},
"mark":{"type":"rect","fill":"white"},"encoding":{"x2":{"field":"px2"},"y2":{"field":"py2"}}},
{"data":{"values":[{"px":399,"py":996,"px2":264,"py2":852},{"px":1128,"py":506,"px2":971,"py2":337},{"px":870,"py":1065,"px2":975,"py2":1179}]},
"mark":{"type":"rule","stroke":"#ff0000","strokeWidth":5},"encoding":{"x2":{"field":"px2"},"y2":{"field":"py2"}}},
{"data":{"values":[{"id":1,"k":0,"px":245,"py":832},{"id":1,"k":1,"px":271,"py":845},{"id":1,"k":2,"px":257,"py":859},{"id":2,"k":0,"px":952,"py":317},{"id":2,"k":1,"px":978,"py":331},{"id":2,"k":2,"px":964,"py":344},{"id":3,"k":0,"px":994,"py":1200},{"id":3,"k":1,"px":982,"py":1173},{"id":3,"k":2,"px":968,"py":1186}]},
"mark":{"type":"line","fill":"#ff0000","stroke":"#ff0000","strokeWidth":1},"encoding":{"detail":{"field":"id","type":"nominal"},"order":{"field":"k","type":"quantitative"}}},
{"data":{"values":[{"t":"2600","px":152,"py":162},{"t":"2400","px":158,"py":308},{"t":"2200","px":165,"py":453},{"t":"2000","px":172,"py":599},{"t":"1800","px":181,"py":744},{"t":"1600","px":188,"py":890},{"t":"50","px":219,"py":1160},{"t":"44","px":355,"py":1225},{"t":"38","px":495,"py":1291},{"t":"32","px":635,"py":1358},{"t":"26","px":775,"py":1426},{"t":"20","px":914,"py":1493},{"t":"25","px":984,"py":1493},{"t":"27","px":1121,"py":1426},{"t":"29","px":1260,"py":1358},{"t":"31","px":1399,"py":1292},{"t":"33","px":1540,"py":1225},{"t":"35","px":1677,"py":1159}]},
"mark":{"type":"text","font":"Noto Sans","fontSize":32,"fill":"#333333","align":"center","baseline":"middle"},"encoding":{"text":{"field":"t"}}},
{"data":{"values":[{"t":"Below surface:","px":462,"py":1021},{"t":"Actually\u00a0\u00a0test point","px":462,"py":1074},{"t":"Contour line","px":885,"py":1047},{"t":"Above surface:","px":1130,"py":547},{"t":"Actually\u00a0\u00a0test point","px":1130,"py":600}]},
"mark":{"type":"text","font":"Liberation Serif","fontSize":44,"fill":"#000000","align":"center","baseline":"middle"},"encoding":{"text":{"field":"t"}}},
{"data":{"values":[{"t":"Mandrel heating temperature :60°C","px":562,"py":173}]},"mark":{"type":"text","font":"Liberation Serif","fontSize":44,"fill":"#000000","align":"center","baseline":"middle","angle":345.9},"encoding":{"text":{"field":"t"}}},
{"data":{"values":[{"t":"NOL—Ring\u00a0\u00a0tensile\u00a0\u00a0strength(MPa)","px":57,"py":670}]},"mark":{"type":"text","font":"Liberation Serif","fontSize":49,"fill":"#000000","align":"center","baseline":"middle","angle":270},"encoding":{"text":{"field":"t"}}},
{"data":{"values":[{"t":"Winding\u00a0\u00a0rate(%)","px":500,"py":1378}]},"mark":{"type":"text","font":"Liberation Serif","fontSize":49,"fill":"#000000","align":"center","baseline":"middle","angle":29.4},"encoding":{"text":{"field":"t"}}},
{"data":{"values":[{"t":"Laser\u00a0\u00a0power (%)","px":1418,"py":1375}]},"mark":{"type":"text","font":"Liberation Serif","fontSize":49,"fill":"#000000","align":"center","baseline":"middle","angle":333.5},"encoding":{"text":{"field":"t"}}},
{"data":{"values":[{"t":"(a)","px":85,"py":1479}]},"mark":{"type":"text","font":"Liberation Serif","fontSize":106,"fill":"#ff0000","align":"center","baseline":"middle"},"encoding":{"text":{"field":"t"}}}
]},
{"width":1258,"height":1276,
"title":{"text":"NOL—Ring\u00a0\u00a0tensile\u00a0\u00a0strength(MPa)","font":"Liberation Serif","fontSize":46,"fontWeight":"normal","color":"#000000","offset":15,"anchor":"middle"},
"encoding":{
"x":{"field":"l","type":"quantitative","scale":{"domain":[25,35],"nice":false,"zero":false},"axis":{"values":[25,27,29,31,33,35],"format":"d","title":"Laser\u00a0\u00a0power (%)","titleFont":"Liberation Serif","titleFontSize":44,"titleFontWeight":"normal","titleColor":"#000000","titlePadding":6,"labelFont":"Liberation Serif","labelFontSize":38,"labelColor":"#000000","labelPadding":18,"labelOverlap":false,"labelFlush":false,"tickColor":"#444444","tickSize":10,"tickWidth":2,"domain":false,"grid":false}},
"y":{"field":"w","type":"quantitative","scale":{"domain":[20,50],"nice":false,"zero":false},"axis":{"values":[20,26,32,38,44,50],"format":"d","title":"Winding\u00a0\u00a0rate(%)","titleFont":"Liberation Serif","titleFontSize":44,"titleFontWeight":"normal","titleColor":"#000000","titlePadding":36,"labelFont":"Liberation Serif","labelFontSize":38,"labelColor":"#000000","labelPadding":12,"labelOverlap":false,"labelFlush":false,"tickColor":"#444444","tickSize":10,"tickWidth":2,"domain":false,"grid":false}}},
"layer":[
{"data":{"name":"grid"},"transform":[{"calculate":"datum.l-0.4","as":"lo"},{"calculate":"datum.l+0.15","as":"hi"},{"calculate":"datum.w-0.6","as":"wlo"},{"calculate":"datum.w+0.22","as":"whi"}],
"mark":{"type":"rect","clip":true},"encoding":{"x":{"field":"lo","type":"quantitative"},"x2":{"field":"hi"},"y":{"field":"wlo","type":"quantitative"},"y2":{"field":"whi"},"fill":{"field":"z","type":"quantitative","legend":null,"scale":{"domain":[1630,1872,2115,2357,2600],"range":["#0000ff","#00ffff","#00ff00","#ffff00","#ff2000"],"interpolate":"rgb"}}}},
{"data":{"name":"grid"},"transform":[{"calculate":"datum.l-0.125","as":"lo"},{"calculate":"datum.l+0.375","as":"hi"},{"calculate":"datum.w-0.1875","as":"wlo"},{"calculate":"datum.w+0.5625","as":"whi"}],
"mark":{"type":"rect","clip":true,"opacity":0.5},"encoding":{"x":{"field":"lo","type":"quantitative"},"x2":{"field":"hi"},"y":{"field":"wlo","type":"quantitative"},"y2":{"field":"whi"},"fill":{"field":"z","type":"quantitative","legend":null}}},
{"data":{"name":"grid"},"transform":[{"calculate":"datum.l-0.375","as":"lo"},{"calculate":"datum.l+0.125","as":"hi"},{"calculate":"datum.w-0.1875","as":"wlo"},{"calculate":"datum.w+0.5625","as":"whi"}],
"mark":{"type":"rect","clip":true,"opacity":0.333},"encoding":{"x":{"field":"lo","type":"quantitative"},"x2":{"field":"hi"},"y":{"field":"wlo","type":"quantitative"},"y2":{"field":"whi"},"fill":{"field":"z","type":"quantitative","legend":null}}},
{"data":{"name":"grid"},"transform":[{"calculate":"datum.l-0.125","as":"lo"},{"calculate":"datum.l+0.375","as":"hi"},{"calculate":"datum.w-0.5625","as":"wlo"},{"calculate":"datum.w+0.1875","as":"whi"}],
"mark":{"type":"rect","clip":true,"opacity":0.25},"encoding":{"x":{"field":"lo","type":"quantitative"},"x2":{"field":"hi"},"y":{"field":"wlo","type":"quantitative"},"y2":{"field":"whi"},"fill":{"field":"z","type":"quantitative","legend":null}}},
{"data":{"values":[{"l":27,"w":20,"w2":50},{"l":29,"w":20,"w2":50},{"l":31,"w":20,"w2":50},{"l":33,"w":20,"w2":50}]},"mark":{"type":"rule","stroke":"#a8a8a0","strokeWidth":2},"encoding":{"y2":{"field":"w2"}}},
{"data":{"values":[{"l":25,"l2":35,"w":26},{"l":25,"l2":35,"w":32},{"l":25,"l2":35,"w":38},{"l":25,"l2":35,"w":44}]},"mark":{"type":"rule","stroke":"#a8a8a0","strokeWidth":2.5},"encoding":{"x2":{"field":"l2"}}},
{"data":{"values":[{"l":25,"l2":35,"w":20},{"l":25,"l2":35,"w":50}]},"mark":{"type":"rule","stroke":"#666666","strokeWidth":3},"encoding":{"x2":{"field":"l2"}}},
{"data":{"values":[{"l":25,"w":20,"w2":50},{"l":35,"w":20,"w2":50}]},"mark":{"type":"rule","stroke":"#777777","strokeWidth":2},"encoding":{"y2":{"field":"w2"}}},
{"data":{"values":[
{"c":"a","k":0,"l":25,"w":20},{"c":"a","k":1,"l":27,"w":20.68},{"c":"a","k":2,"l":29,"w":21.17},{"c":"a","k":3,"l":31,"w":21.56},{"c":"a","k":4,"l":33,"w":21.84},{"c":"a","k":5,"l":35,"w":22.04},
{"c":"b","k":0,"l":25,"w":23.85},{"c":"b","k":1,"l":27,"w":24.29},{"c":"b","k":2,"l":29,"w":24.57},{"c":"b","k":3,"l":31,"w":24.73},{"c":"b","k":4,"l":33,"w":24.78},{"c":"b","k":5,"l":35,"w":24.78},
{"c":"d","k":0,"l":25,"w":30.51},{"c":"d","k":1,"l":27,"w":29.85},{"c":"d","k":2,"l":29,"w":29.3},{"c":"d","k":3,"l":31,"w":28.86},{"c":"d","k":4,"l":33,"w":28.45},{"c":"d","k":5,"l":35,"w":28.08},
{"c":"e","k":0,"l":35,"w":50},{"c":"e","k":1,"l":34,"w":47.75},{"c":"e","k":2,"l":33,"w":45.4},{"c":"e","k":3,"l":32.46,"w":44},{"c":"e","k":4,"l":31.77,"w":41.9},{"c":"e","k":5,"l":31.42,"w":40.36},{"c":"e","k":6,"l":31.28,"w":38.7},{"c":"e","k":7,"l":31.5,"w":36.6},{"c":"e","k":8,"l":32.5,"w":34.68},{"c":"e","k":9,"l":33.5,"w":33.62},{"c":"e","k":10,"l":34,"w":33.2},{"c":"e","k":11,"l":35,"w":32.53},
{"c":"f","k":0,"l":25,"w":38.4},{"c":"f","k":1,"l":26.5,"w":40.7},{"c":"f","k":2,"l":28.3,"w":43.8},{"c":"f","k":3,"l":29.07,"w":45.1},{"c":"f","k":4,"l":31,"w":48},{"c":"f","k":5,"l":32.2,"w":50},
{"c":"g","k":0,"l":25,"w":45.1},{"c":"g","k":1,"l":26.45,"w":46.7},{"c":"g","k":2,"l":27.5,"w":48},{"c":"g","k":3,"l":29.2,"w":50},
{"c":"h","k":0,"l":25,"w":48.95},{"c":"h","k":1,"l":25.5,"w":49.45},{"c":"h","k":2,"l":26.05,"w":50}
]},"mark":{"type":"line","stroke":"#1a1a1a","strokeWidth":2.5,"interpolate":"cardinal"},"encoding":{"detail":{"field":"c","type":"nominal"},"order":{"field":"k","type":"quantitative"}}},
{"data":{"values":[{"l1":25.05,"l2":26.16,"w1":48.4,"w2":49.95},{"l1":26.4,"l2":27.53,"w1":46.69,"w2":48.27},{"l1":27.94,"l2":29.07,"w1":43.79,"w2":45.37},{"l1":30.92,"l2":32.05,"w1":40.35,"w2":41.9},{"l1":29.22,"l2":30.36,"w1":28.38,"w2":29.95},{"l1":29.22,"l2":30.36,"w1":23.67,"w2":25.24},{"l1":29.27,"l2":30.4,"w1":20.68,"w2":22.21}]},"mark":{"type":"rect","fill":"white","stroke":"#000000","strokeWidth":2.5},"encoding":{"x":{"field":"l1","type":"quantitative"},"x2":{"field":"l2"},"y":{"field":"w1","type":"quantitative"},"y2":{"field":"w2"}}},
{"data":{"values":[{"t":"1800","l":25.6,"w":49.17},{"t":"2000","l":26.96,"w":47.48},{"t":"2200","l":28.5,"w":44.58},{"t":"2400","l":31.48,"w":41.12},{"t":"2200","l":29.79,"w":29.16},{"t":"2000","l":29.79,"w":24.45},{"t":"1800","l":29.83,"w":21.45}]},"mark":{"type":"text","font":"Liberation Serif","fontSize":46,"fill":"#000000","align":"center","baseline":"middle"},"encoding":{"text":{"field":"t"}}},
{"data":{"values":[{"l":25,"w":20},{"l":35,"w":20},{"l":25,"w":50},{"l":35,"w":50},{"l":30,"w":35}]},"mark":{"type":"circle","size":500,"fill":"#b00000","stroke":"#6e0000","strokeWidth":1,"opacity":1,"clip":false}},
{"data":{"values":[{"t":"5","l":29.78,"w":35}]},"mark":{"type":"text","font":"Liberation Sans","fontSize":13,"fill":"#222222","align":"center","baseline":"middle"},"encoding":{"text":{"field":"t"}}},
{"data":{"values":[{"t":"(b)","l":24.08,"w":17.86}]},"mark":{"type":"text","font":"Liberation Serif","fontSize":104,"fill":"#ff0000","align":"center","baseline":"middle"},"encoding":{"text":{"field":"t"}}}
]}
]}
